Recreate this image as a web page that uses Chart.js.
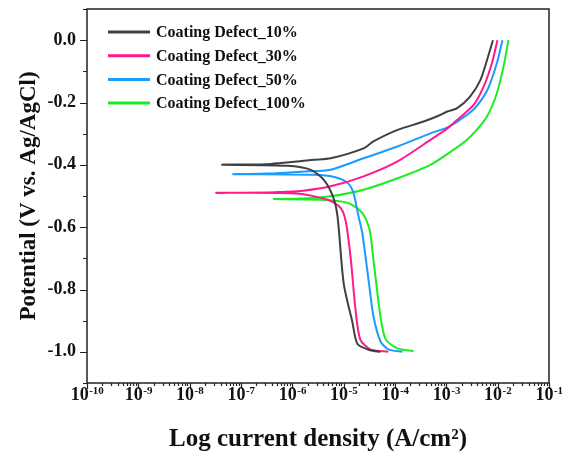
<!DOCTYPE html>
<html>
<head>
<meta charset="utf-8">
<script src="https://cdn.jsdelivr.net/npm/chart.js@4.4.1/dist/chart.umd.min.js"></script>
<style>
  html, body { margin: 0; padding: 0; background: #fff; }
</style>
</head>
<body>
<canvas id="tafel" width="570" height="456"></canvas>
<script>
// series names
const seriesNames = ['Coating Defect_10%', 'Coating Defect_30%', 'Coating Defect_50%', 'Coating Defect_100%'];
const seriesColors = ['#404040', '#ff1a8c', '#1a9cff', '#1aee22'];

// current density (A/cm2) and potential (V),
// cathodic branch from -1.0 V up to the corrosion tip, then anodic branch up to 0 V
const def10I = [5.2e-5, 3.3e-5, 1.86e-5, 1.48e-5, 1.0e-5, 7.6e-6, 6.2e-6, 4.1e-6, 2.3e-6, 8.0e-7, 4.3e-8,
                3.2e-7, 6.0e-7, 2.6e-6, 5.6e-6, 2.44e-5, 3.8e-5, 1.12e-4, 3.6e-4, 7.6e-4, 1.04e-3, 1.6e-3,
                2.9e-3, 4.6e-3, 6.2e-3, 8.1e-3];
const def10E = [-1.0, -0.995, -0.975, -0.905, -0.78, -0.566, -0.502, -0.448, -0.416, -0.403, -0.40,
                -0.398, -0.394, -0.384, -0.379, -0.347, -0.325, -0.288, -0.261, -0.24, -0.229, -0.219,
                -0.181, -0.128, -0.064, 0.0];

const def30I = [7.4e-5, 3.3e-5, 2.1e-5, 1.7e-5, 1.38e-5, 1.1e-5, 8.7e-6, 4.9e-6, 1.2e-6, 3.3e-8,
                3.2e-7, 6.0e-7, 1.66e-6, 5.6e-6, 2.44e-5, 1.12e-4, 4.9e-4, 1.05e-3, 1.62e-3, 3.4e-3,
                5.3e-3, 7.7e-3, 9.9e-3];
const def30E = [-1.0, -0.992, -0.96, -0.864, -0.704, -0.582, -0.538, -0.512, -0.492, -0.49,
                -0.489, -0.487, -0.483, -0.469, -0.437, -0.389, -0.32, -0.283, -0.256, -0.208,
                -0.15, -0.075, 0.0];

const def50I = [1.4e-4, 7.4e-5, 5.2e-5, 3.8e-5, 3.1e-5, 2.3e-5, 1.95e-5, 1.55e-5, 1.2e-5, 6.3e-6, 2.6e-6, 7.1e-8,
                3.2e-7, 6.0e-7, 2.6e-6, 5.6e-6, 2.44e-5, 1.12e-4, 4.9e-4, 1.05e-3, 1.86e-3, 3.5e-3,
                6.3e-3, 9.6e-3, 1.24e-2];
const def50E = [-1.0, -0.992, -0.966, -0.886, -0.778, -0.618, -0.566, -0.49, -0.458, -0.438, -0.432, -0.43,
                -0.428, -0.426, -0.42, -0.416, -0.379, -0.341, -0.299, -0.28, -0.255, -0.22,
                -0.16, -0.075, 0.0];

const def100I = [2.3e-4, 1.12e-4, 6.6e-5, 5.2e-5, 3.8e-5, 3.2e-5, 2.3e-5, 1.2e-5, 3.5e-6, 4.4e-7,
                 1.6e-6, 5.6e-6, 2.44e-5, 1.12e-4, 4.9e-4, 1.37e-3, 2.5e-3, 3.9e-3, 6.2e-3, 9.6e-3,
                 1.3e-2, 1.62e-2];
const def100E = [-0.998, -0.989, -0.96, -0.886, -0.704, -0.608, -0.554, -0.522, -0.512, -0.51,
                 -0.508, -0.501, -0.48, -0.443, -0.40, -0.352, -0.32, -0.288, -0.245, -0.171,
                 -0.085, 0.0];

// axes
const xDecades = [-10, -9, -8, -7, -6, -5, -4, -3, -2, -1];
const yMin = -1.1, yMax = 0.1;

const serif = "'Liberation Serif', 'Times New Roman', serif";

function toPoints(I, E) {
    return I.map((v, i) => ({x: v, y: E[i]}));
}

const curves = [[def10I, def10E], [def30I, def30E], [def50I, def50E], [def100I, def100E]];

const datasets = curves.map((c, i) => ({
    label: seriesNames[i],
    data: toPoints(c[0], c[1]),
    borderColor: seriesColors[i],
    backgroundColor: seriesColors[i],
    borderWidth: 2,
    pointRadius: 0,
    showLine: true,
    tension: 0.25,
    fill: false
}));

function isDecade(v) {
    const l = Math.log10(v);
    return Math.abs(l - Math.round(l)) < 1e-6;
}
function isMajorY(v) {
    return Math.round(v * 10) % 2 === 0;
}

// box, tick marks, 10^n labels and legend
const framePlugin = {
    id: 'framePlugin',
    afterDraw(chart) {
        const {ctx, chartArea: a, scales: {x, y}} = chart;
        ctx.save();
        ctx.strokeStyle = '#222';
        ctx.lineWidth = 1.5;
        ctx.strokeRect(a.left, a.top, a.right - a.left, a.bottom - a.top);

        ctx.lineWidth = 1.2;
        ctx.beginPath();
        x.ticks.forEach(t => {
            const px = Math.round(x.getPixelForValue(t.value)) + 0.5;
            const len = isDecade(t.value) ? 6 : 3;
            ctx.moveTo(px, a.bottom);
            ctx.lineTo(px, a.bottom + len);
        });
        y.ticks.forEach(t => {
            const py = Math.round(y.getPixelForValue(t.value)) + 0.5;
            const len = isMajorY(t.value) ? 7 : 4;
            ctx.moveTo(a.left, py);
            ctx.lineTo(a.left - len, py);
        });
        ctx.stroke();

        // x tick labels with superscript exponent
        ctx.fillStyle = '#111';
        ctx.textBaseline = 'alphabetic';
        ctx.textAlign = 'left';
        xDecades.forEach(p => {
            const px = x.getPixelForValue(Math.pow(10, p));
            const base = '10', exp = String(p);
            ctx.font = 'bold 18px ' + serif;
            const wb = ctx.measureText(base).width;
            ctx.font = 'bold 11px ' + serif;
            const we = ctx.measureText(exp).width;
            const x0 = px - (wb + we) / 2;
            ctx.font = 'bold 18px ' + serif;
            ctx.fillText(base, x0, a.bottom + 17);
            ctx.font = 'bold 11px ' + serif;
            ctx.fillText(exp, x0 + wb + 0.5, a.bottom + 11);
        });

        ctx.font = 'bold 16px ' + serif;
        ctx.textBaseline = 'middle';
        seriesNames.forEach((name, i) => {
            const ly = a.top + 23 + i * 23.7;
            ctx.strokeStyle = seriesColors[i];
            ctx.lineWidth = 3;
            ctx.beginPath();
            ctx.moveTo(a.left + 21, ly);
            ctx.lineTo(a.left + 63, ly);
            ctx.stroke();
            ctx.fillText(name, a.left + 69, ly + 1);
        });
        ctx.restore();
    }
};

const config = {
    type: 'scatter',
    data: {datasets: datasets},
    options: {
        responsive: false,
        animation: false,
        layout: {padding: {top: 9, right: 21, left: 0, bottom: 0}},
        plugins: {
            legend: {display: false},
            tooltip: {enabled: false}
        },
        scales: {
            x: {
                type: 'logarithmic',
                min: 1e-10,
                max: 1e-1,
                afterBuildTicks(scale) {
                    const ticks = [];
                    xDecades.forEach(p => {
                        for (let m = 1; m <= 9; m++) {
                            if (p === -1 && m > 1) break;
                            ticks.push({value: m * Math.pow(10, p), major: m === 1});
                        }
                    });
                    scale.ticks = ticks;
                },
                afterFit(scale) {
                    scale.height = 73;
                    scale.paddingLeft = 0;
                    scale.paddingRight = 0;
                },
                grid: {display: false, drawTicks: false},
                border: {display: false},
                ticks: {
                    autoSkip: false,
                    maxRotation: 0,
                    callback() { return ''; }
                },
                title: {
                    display: true,
                    text: 'Log current density (A/cm\u00B2)',
                    color: '#111',
                    font: {family: serif, size: 25, weight: 'bold'},
                    padding: {top: 4, bottom: 1}
                }
            },
            y: {
                min: yMin,
                max: yMax,
                afterFit(scale) {
                    scale.width = 87;
                    scale.paddingTop = 0;
                    scale.paddingBottom = 0;
                },
                grid: {display: false, drawTicks: false},
                border: {display: false},
                ticks: {
                    stepSize: 0.1,
                    padding: 11,
                    color: '#111',
                    font: {family: serif, size: 18, weight: 'bold'},
                    callback(v) {
                        return isMajorY(v) ? v.toFixed(1) : '';
                    }
                },
                title: {
                    display: true,
                    text: 'Potential (V vs. Ag/AgCl)',
                    color: '#111',
                    font: {family: serif, size: 23, weight: 'bold'},
                    padding: {top: 15, bottom: 4}
                }
            }
        }
    },
    plugins: [framePlugin]
};

const tafelChart = new Chart(document.getElementById('tafel'), config);
</script>
</body>
</html>
